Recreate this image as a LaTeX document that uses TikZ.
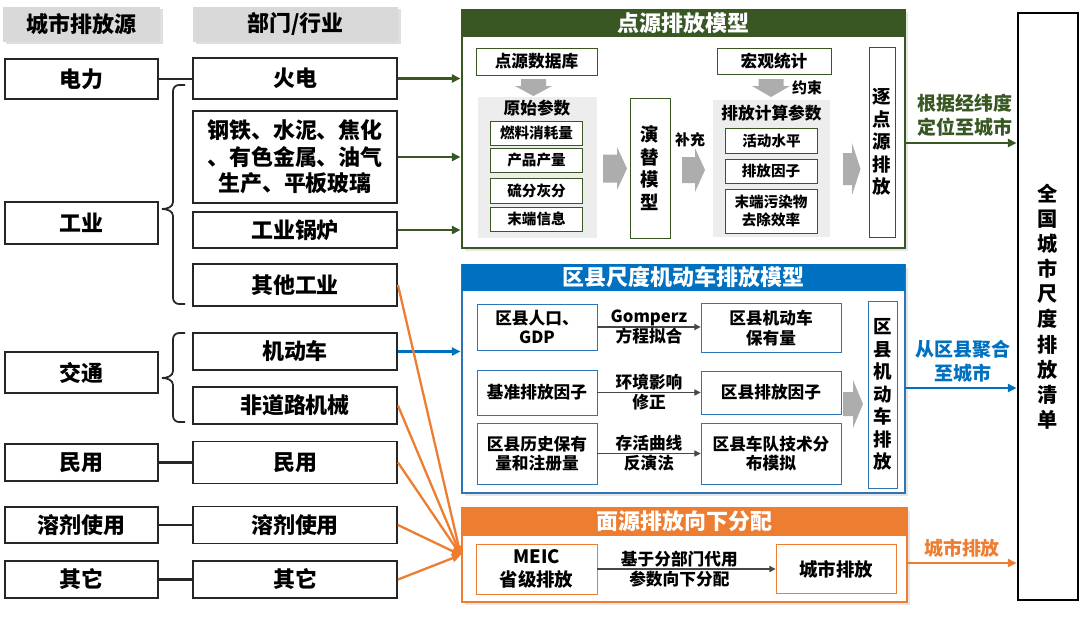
\documentclass[tikz,border=0pt]{standalone}
\usepackage{fontspec}
\setmainfont{Noto Sans CJK SC}
\usepackage{xcolor}
\usepackage{tikz}
\usetikzlibrary{arrows.meta,shadows}
\definecolor{PSGreen}{HTML}{385723}
\definecolor{PSBlue}{HTML}{0070C0}
\definecolor{PSBlueLine}{HTML}{2E75B6}
\definecolor{PSOrange}{HTML}{ED7D31}
\definecolor{PSHead}{HTML}{D9D9D9}
\definecolor{PSPanel}{HTML}{EDEDED}
\definecolor{PSArrow}{HTML}{ADADAD}
\definecolor{PSInk}{HTML}{262626}
\tikzset{
  hdr/.style={fill=PSHead, minimum height=0.70cm, inner sep=0pt,
    font=\bfseries\fontsize{12.5}{15}\selectfont,
    drop shadow={shadow xshift=0.05cm, shadow yshift=-0.05cm, opacity=0.25}},
  srcbox/.style={draw=PSInk, line width=1.1pt, fill=white, minimum width=3.06cm,
    inner sep=0pt, align=center, font=\bfseries\fontsize{12.5}{15}\selectfont},
  secbox/.style={srcbox, minimum width=4.08cm},
  bracket/.style={draw=PSInk, line width=1pt},
  link/.style={draw=PSInk, line width=1.4pt},
  frame/.style={line width=1.5pt, fill=white,
    drop shadow={shadow xshift=0.05cm, shadow yshift=-0.05cm, opacity=0.2}},
  titlebar/.style={text=white, inner sep=0pt, minimum height=0.56cm,
    font=\bfseries\fontsize{12.5}{15}\selectfont},
  panel/.style={fill=PSPanel, inner sep=0pt},
  pbox/.style={draw=PSGreen, line width=0.5pt, fill=white, inner sep=0pt,
    align=center, font=\bfseries\fontsize{9.5}{11.5}\selectfont},
  smallbox/.style={pbox, minimum width=1.84cm, font=\bfseries\fontsize{8.3}{10}\selectfont},
  bbox/.style={pbox, draw=PSBlueLine, font=\bfseries\fontsize{9.5}{11}\selectfont},
  obox/.style={pbox, draw=PSOrange, font=\bfseries\fontsize{10.5}{13.5}\selectfont},
  vtext/.style={align=center, inner sep=0pt, font=\bfseries\fontsize{10.5}{12.8}\selectfont},
  note/.style={inner sep=0pt, font=\bfseries\fontsize{8.5}{10}\selectfont},
  lbl/.style={align=center, inner sep=0pt, font=\bfseries\fontsize{9.5}{11.3}\selectfont},
  outlbl/.style={align=center, inner sep=0pt, font=\bfseries\fontsize{10.8}{13.6}\selectfont},
  greenarr/.style={draw=PSGreen, line width=1.3pt, -{Triangle[length=5pt,width=4.5pt]}},
  bluearr/.style={draw=PSBlue, line width=1.3pt, -{Triangle[length=5pt,width=4.5pt]}},
  orangearr/.style={draw=PSOrange, line width=1.3pt, -{Triangle[length=5pt,width=4.5pt]}},
  thinarr/.style={draw=PSInk!85, line width=0.6pt, -{Triangle[length=3.5pt,width=3.5pt]}}
}
\begin{document}
\begin{tikzpicture}[x=1cm,y=1cm]
\path[use as bounding box] (0,0) rectangle (21.60,12.40);
% column heads
\node[hdr, minimum width=3.14cm] (hsrc) at (1.63,11.91) {城市排放源};
\node[hdr, minimum width=4.10cm] (hsec) at (5.91,11.91) {部门/行业};
% city sources
\node[srcbox, minimum height=0.80cm] (dianli) at (1.63,10.82) {电力};
\node[srcbox, minimum height=0.84cm] (gongye) at (1.63,7.94) {工业};
\node[srcbox, minimum height=0.82cm] (jiaotong) at (1.63,4.95) {交通};
\node[srcbox, minimum height=0.74cm] (minyong) at (1.63,3.15) {民用};
\node[srcbox, minimum height=0.72cm] (rongji) at (1.63,1.90) {溶剂使用};
\node[srcbox, minimum height=0.74cm] (qita) at (1.63,0.81) {其它};
% sectors
\node[secbox, minimum height=0.82cm] (huodian) at (5.90,10.83) {火电};
\node[secbox, minimum height=1.84cm] (gangtie) at (5.90,9.26) {钢铁、水泥、焦化\\、有色金属、油气\\生产、平板玻璃};
\node[secbox, minimum height=0.72cm] (guolu) at (5.90,7.80) {工业锅炉};
\node[secbox, minimum height=0.84cm] (qitagy) at (5.90,6.70) {其他工业};
\node[secbox, minimum height=0.74cm] (jidongche) at (5.90,5.37) {机动车};
\node[secbox, minimum height=0.74cm] (feidaolu) at (5.90,4.29) {非道路机械};
\node[secbox, minimum height=0.84cm] (minyongb) at (5.90,3.15) {民用};
\node[secbox, minimum height=0.74cm] (rongjib) at (5.90,1.90) {溶剂使用};
\node[secbox, minimum height=0.74cm] (qitab) at (5.90,0.81) {其它};
% one-to-one links
\draw[link] (dianli.east) -- (dianli.east -| huodian.west);
\draw[link] (minyong.east) -- (minyong.east -| minyongb.west);
\draw[link] (rongji.east) -- (rongji.east -| rongjib.west);
\draw[link] (qita.east) -- (qita.east -| qitab.west);
% braces
\draw[bracket] (3.70,10.70) -- (3.58,10.70) to[out=180,in=90] (3.46,10.58) -- (3.46,8.36)
  to[out=-90,in=0] (3.24,8.22) to[out=0,in=90] (3.46,8.08) -- (3.46,6.44) to[out=-90,in=180] (3.58,6.32) -- (3.70,6.32);
\draw[bracket] (3.70,5.74) -- (3.58,5.74) to[out=180,in=90] (3.46,5.62) -- (3.46,4.98)
  to[out=-90,in=0] (3.24,4.84) to[out=0,in=90] (3.46,4.70) -- (3.46,4.08) to[out=-90,in=180] (3.58,3.96) -- (3.70,3.96);

% point source model
\node[frame, draw=PSGreen, minimum width=8.86cm, minimum height=4.76cm] (ptmodel) at (13.67,9.82) {};
\node[titlebar, fill=PSGreen, minimum width=8.86cm, anchor=north] (pttitle) at (ptmodel.north) {点源排放模型};
\node[pbox, minimum width=2.42cm, minimum height=0.54cm] (dbase) at (10.73,11.17) {点源数据库};
\fill[PSArrow] (10.42,10.82) -- (10.92,10.82) -- (10.92,10.68) -- (11.04,10.68) -- (10.67,10.48) -- (10.30,10.68) -- (10.42,10.68) -- cycle;
\node[panel, minimum width=2.38cm, minimum height=2.82cm] (rawpanel) at (10.75,9.05) {};
\node[pbox, draw=none, fill=none] (rawtitle) at (10.74,10.24) {原始参数};
\node[smallbox, minimum height=0.48cm] (fuel) at (10.73,9.74) {燃料消耗量};
\node[smallbox, minimum height=0.48cm] (product) at (10.73,9.20) {产品产量};
\node[smallbox, minimum height=0.50cm] (sulfur) at (10.73,8.59) {硫分灰分};
\node[smallbox, minimum height=0.48cm] (endinfo) at (10.73,8.02) {末端信息};
\fill[PSArrow] (12.06,9.31) -- (12.34,9.31) -- (12.34,9.46) -- (12.54,9.03) -- (12.34,8.60) -- (12.34,8.75) -- (12.06,8.75) -- cycle;
\node[pbox, minimum width=0.80cm, minimum height=2.80cm] (succession) at (13.00,9.04) {};
\node[vtext] at (succession) {演\\替\\模\\型};
\node[note] (buchong) at (13.80,9.60) {补充};
\fill[PSArrow] (13.64,9.26) -- (13.90,9.26) -- (13.90,9.44) -- (14.10,9.00) -- (13.90,8.56) -- (13.90,8.74) -- (13.64,8.74) -- cycle;
\node[pbox, minimum width=2.28cm, minimum height=0.52cm] (macro) at (15.48,11.18) {宏观统计};
\fill[PSArrow] (15.17,10.82) -- (15.67,10.82) -- (15.67,10.68) -- (15.80,10.68) -- (15.42,10.46) -- (15.04,10.68) -- (15.17,10.68) -- cycle;
\node[note] (yueshu) at (16.14,10.64) {约束};
\node[panel, minimum width=2.34cm, minimum height=2.74cm] (calcpanel) at (15.43,9.03) {};
\node[pbox, draw=none, fill=none] (calctitle) at (15.43,10.14) {排放计算参数};
\node[smallbox, minimum height=0.50cm] (activity) at (15.43,9.59) {活动水平};
\node[smallbox, minimum height=0.48cm] (factor) at (15.42,8.98) {排放因子};
\node[smallbox, minimum height=0.88cm] (removal) at (15.42,8.18) {末端污染物\\去除效率};
\fill[PSArrow] (16.86,9.34) -- (17.04,9.34) -- (17.04,9.54) -- (17.21,9.02) -- (17.04,8.50) -- (17.04,8.70) -- (16.86,8.70) -- cycle;
\node[pbox, minimum width=0.52cm, minimum height=3.80cm] (pointemis) at (17.64,9.56) {};
\node[vtext] at (pointemis) {逐\\点\\源\\排\\放};

% county vehicle model
\node[frame, draw=PSBlueLine, minimum width=8.86cm, minimum height=4.56cm] (vehmodel) at (13.67,4.82) {};
\node[titlebar, fill=PSBlue, minimum width=8.86cm, minimum height=0.54cm, anchor=north] (vehtitle) at (vehmodel.north) {区县尺度机动车排放模型};
\node[bbox, minimum width=2.40cm, minimum height=0.92cm] (pop) at (10.74,5.86) {区县人口、\\GDP};
\node[bbox, minimum width=2.40cm, minimum height=0.90cm] (basefac) at (10.74,4.55) {基准排放因子};
\node[bbox, minimum width=2.40cm, minimum height=1.22cm] (history) at (10.74,3.33) {区县历史保有\\量和注册量};
\node[bbox, minimum width=2.80cm, minimum height=0.98cm] (stock) at (15.42,5.84) {区县机动车\\保有量};
\node[bbox, minimum width=2.80cm, minimum height=0.86cm] (countyfac) at (15.42,4.55) {区县排放因子};
\node[bbox, minimum width=2.80cm, minimum height=1.22cm] (fleet) at (15.42,3.33) {区县车队技术分\\布模拟};
\draw[thinarr] (pop.east) -- (pop.east -| stock.west) node[midway, lbl] {Gomperz\\方程拟合};
\draw[thinarr] (basefac.east) -- (basefac.east -| countyfac.west) node[midway, lbl] {环境影响\\修正};
\draw[thinarr] (history.east) -- (history.east -| fleet.west) node[midway, lbl] {存活曲线\\反演法};
\fill[PSArrow] (16.86,4.56) -- (17.06,4.56) -- (17.06,4.80) -- (17.26,4.32) -- (17.06,3.84) -- (17.06,4.08) -- (16.86,4.08) -- cycle;
\node[bbox, minimum width=0.58cm, minimum height=3.74cm] (vehemis) at (17.65,4.51) {};
\node[vtext] at (vehemis) {区\\县\\机\\动\\车\\排\\放};

% area source allocation
\node[frame, draw=PSOrange, minimum width=8.90cm, minimum height=1.88cm] (areamodel) at (13.69,1.30) {};
\node[titlebar, fill=PSOrange, minimum width=8.90cm, minimum height=0.58cm, anchor=north] (areatitle) at (areamodel.north) {面源排放向下分配};
\node[obox, minimum width=2.42cm, minimum height=1.00cm] (meic) at (10.73,1.02) {MEIC\\省级排放};
\node[obox, minimum width=2.40cm, minimum height=0.98cm] (cityemis) at (16.72,1.02) {城市排放};
\draw[thinarr] (meic.east) -- (meic.east -| cityemis.west) node[pos=0.46, lbl] {基于分部门代用\\参数向下分配};

% inventory
\node[draw=black, line width=1.5pt, minimum width=1.20cm, minimum height=11.74cm, inner sep=0pt,
  align=center, font=\bfseries\fontsize{11.5}{14.3}\selectfont] (inventory) at (20.96,6.27) {全\\国\\城\\市\\尺\\度\\排\\放\\清\\单};

% sectors into models
\draw[greenarr] (huodian.east) -- (huodian.east -| ptmodel.west);
\draw[greenarr] (gangtie.east) -- (gangtie.east -| ptmodel.west);
\draw[greenarr] (guolu.east) -- (guolu.east -| ptmodel.west);
\draw[bluearr] (jidongche.east) -- (jidongche.east -| vehmodel.west);
\foreach \s in {qitagy,feidaolu,minyongb,rongjib,qitab}
  \draw[orangearr] (\s.east) -- (areamodel.west);

% models into inventory
\coordinate (ptout) at (18.10,9.54);
\coordinate (vehout) at (18.10,4.64);
\coordinate (areaout) at (18.14,1.14);
\draw[greenarr] (ptout) -- (ptout -| inventory.west);
\draw[bluearr] (vehout) -- (vehout -| inventory.west);
\draw[orangearr] (areaout) -- (areaout -| inventory.west);
\node[outlbl, text=PSGreen] (geolbl) at (19.30,10.10) {根据经纬度\\定位至城市};
\node[outlbl, text=PSBlue] (agglbl) at (19.26,5.17) {从区县聚合\\至城市};
\node[outlbl, text=PSOrange] (citylbl) at (19.24,1.44) {城市排放};
\end{tikzpicture}
\end{document}
